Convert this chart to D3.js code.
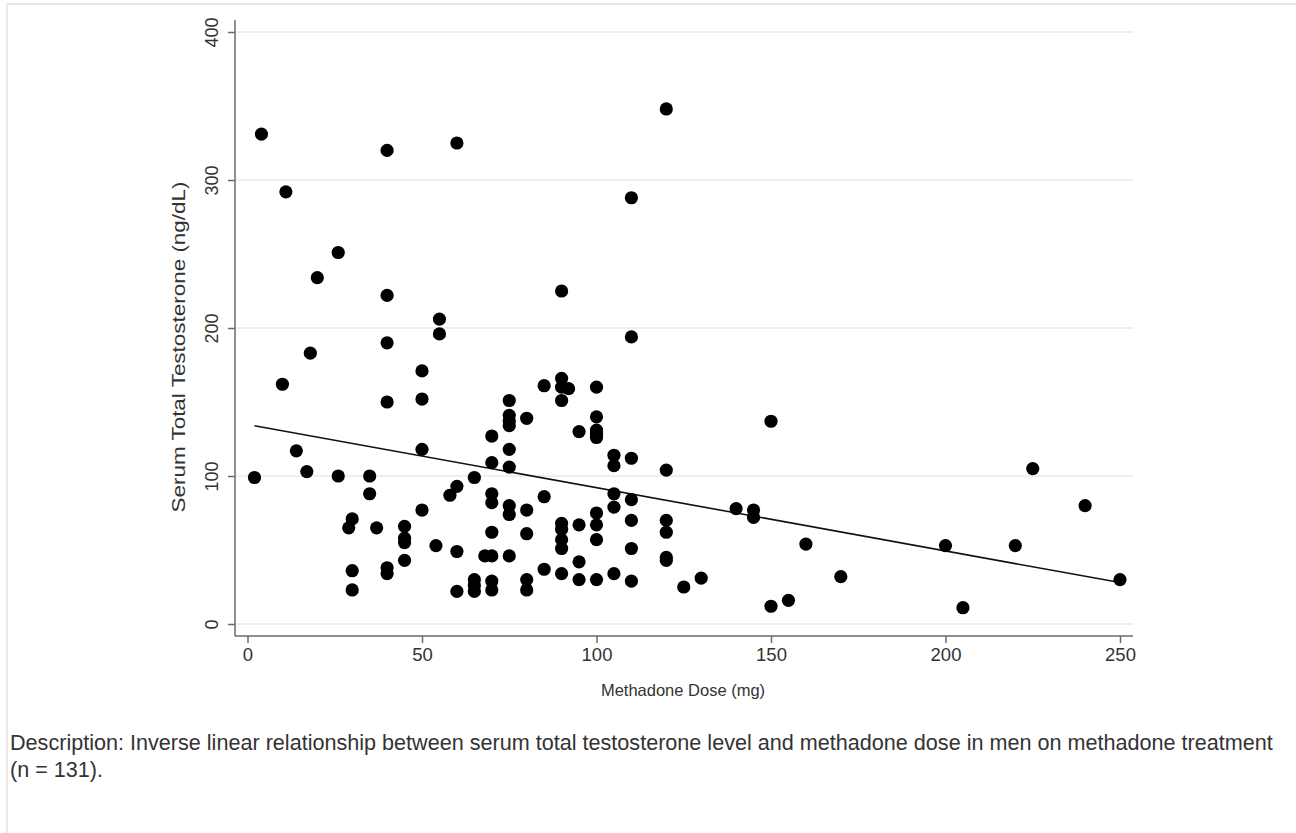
<!DOCTYPE html>
<html>
<head>
<meta charset="utf-8">
<script src="https://cdn.jsdelivr.net/npm/d3@7"></script>
<style>
  body { margin: 0; background: #fff; }
  svg { display: block; font-family: "Liberation Sans", Arial, sans-serif; }
</style>
</head>
<body>
<svg id="chart" width="1296" height="833"></svg>
<script>
// Methadone dose (mg) and serum total testosterone (ng/dL)
const doses = [
  4, 11, 40, 60, 120, 110, 26, 20, 40, 90,
  55, 55, 40, 110, 18, 10, 50, 50, 40, 50,
  75, 75, 75, 75, 70, 75, 70, 75, 14, 17,
  2, 26, 35, 35, 65, 60, 58, 70, 70, 75,
  75, 50, 30, 29, 37, 45, 45, 45, 45, 54,
  60, 70, 68, 70, 75, 30, 30, 40, 40, 60,
  65, 65, 65, 70, 70, 80, 85, 90, 90, 92,
  90, 100, 100, 100, 100, 100, 95, 110, 100, 105,
  105, 120, 85, 80, 80, 90, 90, 90, 90, 95,
  100, 100, 100, 105, 105, 110, 110, 110, 120, 120,
  120, 120, 95, 85, 90, 95, 100, 105, 110, 80,
  80, 125, 130, 140, 150, 225, 240, 145, 145, 160,
  200, 220, 250, 170, 150, 155, 205
];
const testosterone = [
  331, 292, 320, 325, 348, 288, 251, 234, 222, 225,
  206, 196, 190, 194, 183, 162, 171, 152, 150, 118,
  151, 141, 137, 134, 127, 118, 109, 106, 117, 103,
  99, 100, 100, 88, 99, 93, 87, 88, 82, 80,
  74, 77, 71, 65, 65, 66, 58, 55, 43, 53,
  49, 62, 46, 46, 46, 36, 23, 38, 34, 22,
  30, 26, 22, 29, 23, 139, 161, 166, 160, 159,
  151, 160, 140, 131, 126, 128, 130, 112, 129, 114,
  107, 104, 86, 77, 61, 68, 64, 57, 51, 67,
  75, 67, 57, 88, 79, 84, 70, 51, 70, 62,
  45, 43, 42, 37, 34, 30, 30, 34, 29, 30,
  23, 25, 31, 78, 137, 105, 80, 77, 72, 54,
  53, 53, 30, 32, 12, 16, 11
];

// fitted line endpoints as drawn in the figure
const fitX = [2, 250];
const fitY = [134, 28];

const xTicks = [0, 50, 100, 150, 200, 250];
const yTicks = [0, 100, 200, 300, 400];

const xTitle = "Methadone Dose (mg)";
const yTitle = "Serum Total Testosterone (ng/dL)";
const captionLines = [
  "Description: Inverse linear relationship between serum total testosterone level and methadone dose in men on methadone treatment",
  "(n = 131)."
];

const svg = d3.select("#chart");

// page frame (light border on top and left)
svg.append("line").attr("x1", 7).attr("x2", 1296).attr("y1", 4).attr("y2", 4)
  .attr("stroke", "#dedede").attr("stroke-width", 1.5);
svg.append("line").attr("x1", 7).attr("x2", 7).attr("y1", 4).attr("y2", 833)
  .attr("stroke", "#e4e4e4").attr("stroke-width", 1.5);

const x = d3.scaleLinear().domain([0, 250]).range([247.5, 1120]);
const y = d3.scaleLinear().domain([0, 400]).range([624, 32]);

const axisLeftX = 235;
const axisBottomY = 636;
const plotRight = 1133;

// gridlines
svg.append("g").selectAll("line").data(yTicks).join("line")
  .attr("x1", axisLeftX + 1).attr("x2", plotRight)
  .attr("y1", d => y(d)).attr("y2", d => y(d))
  .attr("stroke", "#efefef").attr("stroke-width", 2);

// y axis
const yAxis = svg.append("g")
  .attr("transform", `translate(${axisLeftX},0)`)
  .call(d3.axisLeft(y).tickValues(yTicks).tickSize(7).tickSizeOuter(0));
yAxis.select(".domain").attr("d", `M0,20V${axisBottomY}`);
yAxis.selectAll("path, line").attr("stroke", "#6a6a6a").attr("stroke-width", 1.5);
yAxis.selectAll(".tick text")
  .attr("font-size", 18).attr("fill", "#333")
  .attr("text-anchor", "middle")
  .attr("x", 0).attr("y", 0).attr("dy", "0.35em")
  .attr("transform", "translate(-23,0) rotate(-90)");

// x axis
const xAxis = svg.append("g")
  .attr("transform", `translate(0,${axisBottomY})`)
  .call(d3.axisBottom(x).tickValues(xTicks).tickSize(7).tickSizeOuter(0));
xAxis.select(".domain").attr("d", `M${axisLeftX},0H${plotRight}`);
xAxis.selectAll("path, line").attr("stroke", "#6a6a6a").attr("stroke-width", 1.5);
xAxis.selectAll(".tick text")
  .attr("font-size", 18.5).attr("fill", "#333")
  .attr("y", 19).attr("dy", "0.35em");

// axis titles
svg.append("text")
  .attr("x", 683).attr("y", 696)
  .attr("text-anchor", "middle")
  .attr("font-size", 16.5).attr("fill", "#333")
  .text(xTitle);
svg.append("text")
  .attr("transform", "translate(185,347) rotate(-90)")
  .attr("text-anchor", "middle")
  .attr("font-size", 19).attr("fill", "#333")
  .attr("textLength", 331).attr("lengthAdjust", "spacingAndGlyphs")
  .text(yTitle);

// fitted line
const line = d3.line().x(d => x(d[0])).y(d => y(d[1]));
svg.append("path")
  .datum(d3.zip(fitX, fitY))
  .attr("d", line)
  .attr("fill", "none").attr("stroke", "#111").attr("stroke-width", 1.6);

// points
svg.append("g").selectAll("circle").data(d3.zip(doses, testosterone)).join("circle")
  .attr("cx", d => x(d[0])).attr("cy", d => y(d[1]))
  .attr("r", 6.6).attr("fill", "#000");

// caption
svg.append("g").selectAll("text").data(captionLines).join("text")
  .attr("x", 10).attr("y", (d, i) => 750 + i * 27)
  .attr("font-size", 21.6).attr("fill", "#333")
  .text(d => d);
</script>
</body>
</html>
